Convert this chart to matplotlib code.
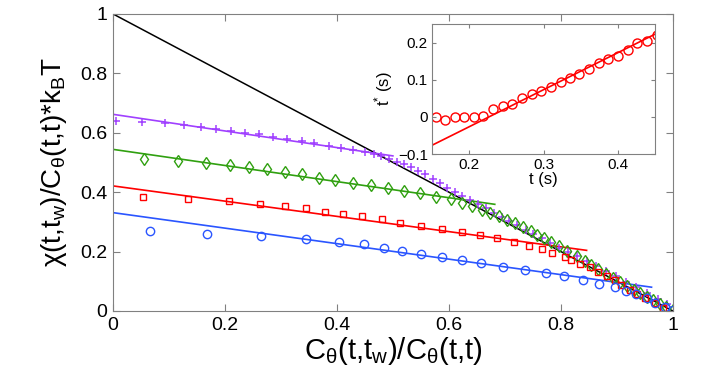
import matplotlib
matplotlib.use("Agg")
import matplotlib.pyplot as plt

plt.rcParams["font.family"] = ["Liberation Sans", "DejaVu Sans"]
plt.rcParams["mathtext.fontset"] = "custom"
plt.rcParams["mathtext.rm"] = "Liberation Sans"
plt.rcParams["mathtext.it"] = "Liberation Sans"

# fitted straight lines: (x0, y0) -> (x1, y1)
fdt_x = [0.0, 1.0]
fdt_y = [1.0, 0.0]
fit_purple_x = [0.0, 0.5]
fit_purple_y = [0.662, 0.522]
fit_green_x = [0.0, 0.682]
fit_green_y = [0.544, 0.359]
fit_red_x = [0.0, 0.846]
fit_red_y = [0.421, 0.204]
fit_blue_x = [0.0, 0.962]
fit_blue_y = [0.331, 0.080]

# data points
purple_x = [0.005, 0.051, 0.093, 0.127, 0.158, 0.184, 0.210, 0.235, 0.260, 0.285,
            0.311, 0.337, 0.359, 0.385, 0.407, 0.429, 0.450, 0.466, 0.479, 0.493,
            0.507, 0.520, 0.532, 0.545, 0.557, 0.571, 0.584, 0.597, 0.611, 0.624,
            0.638, 0.652, 0.666, 0.680, 0.694, 0.708, 0.722, 0.737, 0.751, 0.766,
            0.781, 0.797, 0.813, 0.829, 0.846, 0.863, 0.880, 0.898, 0.916, 0.935,
            0.954, 0.973, 0.990]
purple_y = [0.641, 0.636, 0.632, 0.626, 0.618, 0.612, 0.606, 0.600, 0.595, 0.587,
            0.580, 0.572, 0.565, 0.557, 0.550, 0.542, 0.534, 0.528, 0.520, 0.511,
            0.503, 0.494, 0.484, 0.472, 0.460, 0.445, 0.430, 0.415, 0.400, 0.387,
            0.373, 0.359, 0.345, 0.331, 0.317, 0.303, 0.289, 0.274, 0.259, 0.244,
            0.229, 0.213, 0.200, 0.184, 0.167, 0.150, 0.133, 0.116, 0.098, 0.079,
            0.060, 0.040, 0.022]

green_x = [0.055, 0.117, 0.167, 0.209, 0.243, 0.276, 0.307, 0.337, 0.368, 0.396,
           0.429, 0.461, 0.492, 0.520, 0.548, 0.577, 0.603, 0.624, 0.641, 0.660,
           0.674, 0.689, 0.703, 0.718, 0.733, 0.746, 0.758, 0.770, 0.783, 0.797,
           0.811, 0.828, 0.843, 0.854, 0.867, 0.880, 0.893, 0.905, 0.918, 0.930,
           0.942, 0.954, 0.965, 0.977, 0.988, 1.000]
green_y = [0.512, 0.505, 0.497, 0.492, 0.483, 0.477, 0.469, 0.461, 0.449, 0.441,
           0.432, 0.424, 0.413, 0.405, 0.397, 0.385, 0.376, 0.365, 0.354, 0.340,
           0.329, 0.318, 0.306, 0.295, 0.281, 0.269, 0.256, 0.247, 0.233, 0.217,
           0.202, 0.185, 0.168, 0.155, 0.140, 0.124, 0.110, 0.097, 0.084, 0.071,
           0.059, 0.047, 0.036, 0.025, 0.013, 0.002]

red_x = [0.054, 0.134, 0.207, 0.263, 0.308, 0.345, 0.379, 0.411, 0.445, 0.480,
         0.513, 0.551, 0.587, 0.623, 0.655, 0.686, 0.716, 0.743, 0.766, 0.785,
         0.807, 0.819, 0.834, 0.852, 0.867, 0.882, 0.896, 0.908, 0.923, 0.936,
         0.950, 0.968, 0.983]
red_y = [0.385, 0.377, 0.369, 0.361, 0.352, 0.346, 0.334, 0.326, 0.318, 0.309,
         0.297, 0.287, 0.277, 0.267, 0.256, 0.245, 0.231, 0.220, 0.209, 0.196,
         0.183, 0.172, 0.158, 0.147, 0.132, 0.118, 0.104, 0.088, 0.071, 0.057,
         0.043, 0.026, 0.009]

blue_x = [0.067, 0.168, 0.264, 0.345, 0.404, 0.449, 0.484, 0.517, 0.551, 0.587,
          0.623, 0.658, 0.697, 0.736, 0.773, 0.806, 0.840, 0.868, 0.896, 0.917,
          0.935, 0.953, 0.968, 0.986, 1.000]
blue_y = [0.269, 0.260, 0.252, 0.241, 0.232, 0.225, 0.213, 0.203, 0.193, 0.183,
          0.172, 0.161, 0.149, 0.138, 0.127, 0.116, 0.104, 0.091, 0.080, 0.068,
          0.057, 0.043, 0.028, 0.014, 0.003]

# inset: t* versus t
inset_t = [0.155, 0.168, 0.181, 0.193, 0.206, 0.219, 0.232, 0.245, 0.258, 0.271,
           0.284, 0.297, 0.310, 0.323, 0.336, 0.348, 0.361, 0.374, 0.387, 0.400,
           0.413, 0.426, 0.439, 0.452]
inset_tstar = [-0.001, -0.007, 0.000, 0.000, 0.000, 0.004, 0.022, 0.029, 0.034, 0.052,
               0.061, 0.070, 0.081, 0.093, 0.105, 0.116, 0.128, 0.146, 0.157, 0.164,
               0.180, 0.198, 0.205, 0.221]
inset_fit_t = [0.15, 0.45]
inset_fit_tstar = [-0.076, 0.223]

PURPLE = "#a040ff"
GREEN = "#30a010"
RED = "#ff0000"
BLUE = "#2a55ff"
GRAY = "#808080"

fig = plt.figure(figsize=(7.06, 3.76), dpi=100)
ax = fig.add_axes([0.160, 0.173, 0.793, 0.790])

ax.plot(fdt_x, fdt_y, color="black", lw=1.1)
ax.plot(fit_purple_x, fit_purple_y, color=PURPLE, lw=1.2)
ax.plot(fit_green_x, fit_green_y, color=GREEN, lw=1.2)
ax.plot(fit_red_x, fit_red_y, color=RED, lw=1.2)
ax.plot(fit_blue_x, fit_blue_y, color=BLUE, lw=1.2)

ax.plot(purple_x, purple_y, "+", color=PURPLE, ms=6, mew=1.1)
ax.plot(green_x, green_y, "d", color=GREEN, ms=6, mfc="none", mew=1.0)
ax.plot(red_x, red_y, "s", color=RED, ms=5, mfc="none", mew=1.0)
ax.plot(blue_x, blue_y, "o", color=BLUE, ms=6, mfc="none", mew=1.0)

ax.set_xlim(0, 1)
ax.set_ylim(0, 1)
ax.set_xticks([0, 0.2, 0.4, 0.6, 0.8, 1])
ax.set_xticklabels(["0", "0.2", "0.4", "0.6", "0.8", "1"])
ax.set_yticks([0, 0.2, 0.4, 0.6, 0.8, 1])
ax.set_yticklabels(["0", "0.2", "0.4", "0.6", "0.8", "1"])
ax.tick_params(direction="in", top=True, right=True, labelsize=14, length=5,
               color=GRAY, pad=4)
for s in ax.spines.values():
    s.set_color(GRAY)
ax.set_xlabel(r"$\mathregular{C_{θ}(t{,}t_{w})/C_{θ}(t{,}t)}$", fontsize=21, labelpad=1)
ax.set_ylabel(r"$\mathregular{χ(t{,}t_{w})/C_{θ}(t{,}t){*}k_{B}T}$", fontsize=20, labelpad=8)

ins = fig.add_axes([0.612, 0.590, 0.316, 0.346])
ins.plot(inset_fit_t, inset_fit_tstar, color=RED, lw=1.2)
ins.plot(inset_t, inset_tstar, "o", color=RED, ms=6.5, mfc="none", mew=1.0)
ins.set_xlim(0.15, 0.45)
ins.set_ylim(-0.1, 0.25)
ins.set_xticks([0.2, 0.3, 0.4])
ins.set_xticklabels(["0.2", "0.3", "0.4"])
ins.set_yticks([-0.1, 0, 0.1, 0.2])
ins.set_yticklabels(["\u22120.1", "0", "0.1", "0.2"])
ins.tick_params(direction="in", top=True, right=True, labelsize=11, length=3,
                color=GRAY, pad=3)
for s in ins.spines.values():
    s.set_color(GRAY)
ins.set_xlabel("t (s)", fontsize=12, labelpad=0)
ins.set_ylabel(r"$\mathregular{t^{*}}$ (s)", fontsize=12, labelpad=2)

fig.savefig("out.png", dpi=100)
